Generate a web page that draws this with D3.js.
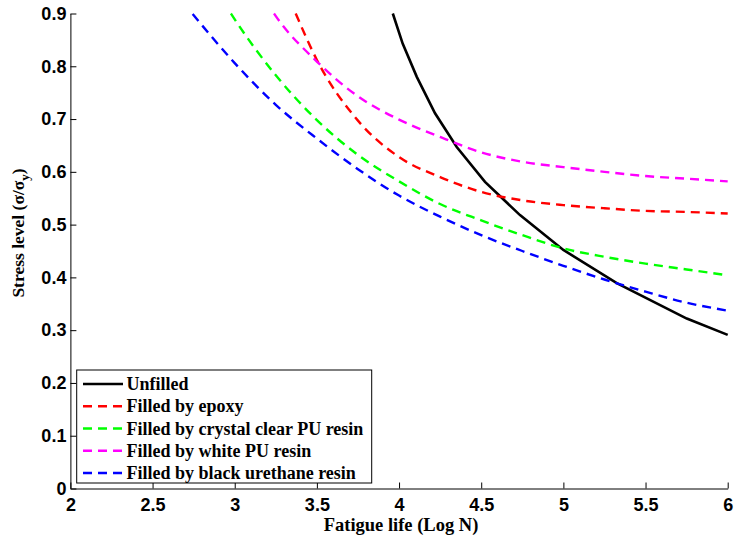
<!DOCTYPE html>
<html>
<head>
<meta charset="utf-8">
<script src="https://cdn.jsdelivr.net/npm/d3@7"></script>
<style>
  body { margin: 0; background: #fff; }
  .tick text { font-family: "Liberation Sans", Arial, sans-serif; font-weight: bold; font-size: 18px; fill: #000; }
</style>
</head>
<body>
<script>
// fatigue life (log N) vs stress level
var xTicks = [2, 2.5, 3, 3.5, 4, 4.5, 5, 5.5, 6];
var yTicks = [0, 0.1, 0.2, 0.3, 0.4, 0.5, 0.6, 0.7, 0.8, 0.9];

var unfilledX = [3.962, 4.022, 4.108, 4.219, 4.351, 4.523, 4.736, 5.0, 5.325, 5.751, 6.0];
var unfilledY = [0.9, 0.843, 0.780, 0.711, 0.647, 0.581, 0.518, 0.452, 0.389, 0.322, 0.291];

var epoxyX = [3.371, 3.5, 3.75, 4.0, 4.25, 4.5, 4.75, 5.0, 5.25, 5.5, 5.75, 6.0];
var epoxyY = [0.9, 0.812, 0.697, 0.628, 0.590, 0.562, 0.546, 0.537, 0.531, 0.526, 0.524, 0.521];

var crystalX = [2.977, 3.0, 3.25, 3.5, 3.75, 4.0, 4.25, 4.5, 4.75, 5.0, 5.25, 5.5, 5.75, 6.0];
var crystalY = [0.9, 0.889, 0.783, 0.698, 0.632, 0.582, 0.539, 0.508, 0.480, 0.455, 0.439, 0.426, 0.415, 0.404];

var whiteX = [3.239, 3.25, 3.5, 3.75, 4.0, 4.25, 4.5, 4.75, 5.0, 5.25, 5.5, 5.75, 6.0];
var whiteY = [0.9, 0.895, 0.809, 0.743, 0.699, 0.666, 0.637, 0.619, 0.609, 0.600, 0.592, 0.587, 0.582];

var blackX = [2.744, 3.0, 3.25, 3.5, 3.75, 4.0, 4.25, 4.5, 4.75, 5.0, 5.25, 5.5, 5.75, 6.0];
var blackY = [0.899, 0.806, 0.727, 0.663, 0.605, 0.555, 0.515, 0.480, 0.450, 0.422, 0.396, 0.373, 0.352, 0.337];

var seriesNames = ["Unfilled", "Filled by epoxy", "Filled by crystal clear PU resin",
                   "Filled by white PU resin", "Filled by black urethane resin"];
var seriesColors = ["#000000", "#ff0000", "#00ff00", "#ff00ff", "#0000ff"];

window.onload = function(){
    var w = 735, h = 541;
    var svg = d3.select("body").append("svg")
        .attr("width", w)
        .attr("height", h);

    var x = d3.scaleLinear().domain([2, 6]).range([70.4, 727.7]);
    var y = d3.scaleLinear().domain([0, 0.9]).range([488.5, 13.5]);

    //axes with inward ticks
    svg.append("g")
        .attr("transform", "translate(0," + y(0) + ")")
        .call(d3.axisBottom(x).tickValues(xTicks).tickFormat(d3.format("~g"))
            .tickSizeInner(-6).tickSizeOuter(0).tickPadding(10));
    svg.append("g")
        .attr("transform", "translate(" + x(2) + ",0)")
        .call(d3.axisLeft(y).tickValues(yTicks).tickFormat(d3.format("~g"))
            .tickSizeInner(-6).tickSizeOuter(0).tickPadding(4));
    svg.selectAll(".domain, .tick line").attr("stroke", "#000").attr("stroke-width", 1);

    //lines
    var line = d3.line()
        .x(function(d){ return x(d[0]); })
        .y(function(d){ return y(d[1]); });
    var curved = d3.line().curve(d3.curveMonotoneX)
        .x(function(d){ return x(d[0]); })
        .y(function(d){ return y(d[1]); });

    var allX = [unfilledX, epoxyX, crystalX, whiteX, blackX];
    var allY = [unfilledY, epoxyY, crystalY, whiteY, blackY];

    allX.forEach(function(xs, i){
        var pts = xs.map(function(v, j){ return [v, allY[i][j]]; });
        svg.append("path")
            .datum(pts)
            .attr("d", i === 0 ? line : curved)
            .attr("fill", "none")
            .attr("stroke", seriesColors[i])
            .attr("stroke-width", i === 0 ? 2.6 : 2.4)
            .attr("stroke-dasharray", i === 0 ? null : "9,6");
    });

    //legend
    var lx = 76.7, ly = 370, lw = 295, lh = 113;
    svg.append("rect")
        .attr("x", lx).attr("y", ly)
        .attr("width", lw).attr("height", lh)
        .attr("fill", "#fff")
        .attr("stroke", "#000")
        .attr("stroke-width", 1);
    var items = svg.selectAll(".legItem")
        .data(seriesNames)
        .enter().append("g")
        .attr("class", "legItem")
        .attr("transform", function(d, i){ return "translate(0," + (384 + i * 22.25) + ")"; });
    items.append("line")
        .attr("x1", 83).attr("x2", 123)
        .attr("stroke", function(d, i){ return seriesColors[i]; })
        .attr("stroke-width", 2.4)
        .attr("stroke-dasharray", function(d, i){ return i === 0 ? null : "9,6"; });
    items.append("text")
        .attr("x", 126.5)
        .attr("y", 6)
        .style("font-family", "'Liberation Serif', 'Times New Roman', serif")
        .style("font-weight", "bold")
        .style("font-size", "18px")
        .text(function(d){ return d; });

    //axis titles
    svg.append("text")
        .attr("x", 401).attr("y", 531)
        .attr("text-anchor", "middle")
        .style("font-family", "'Liberation Serif', 'Times New Roman', serif")
        .style("font-weight", "bold")
        .style("font-size", "18.5px")
        .text("Fatigue life (Log N)");

    var yt = svg.append("text")
        .attr("transform", "translate(24,233) rotate(-90)")
        .attr("text-anchor", "middle")
        .style("font-family", "'Liberation Serif', 'Times New Roman', serif")
        .style("font-weight", "bold")
        .style("font-size", "17.5px");
    yt.append("tspan").text("Stress level (σ/σ");
    yt.append("tspan").attr("dy", 5).style("font-size", "13px").text("y");
    yt.append("tspan").attr("dy", -5).text(")");
};
</script>
</body>
</html>
